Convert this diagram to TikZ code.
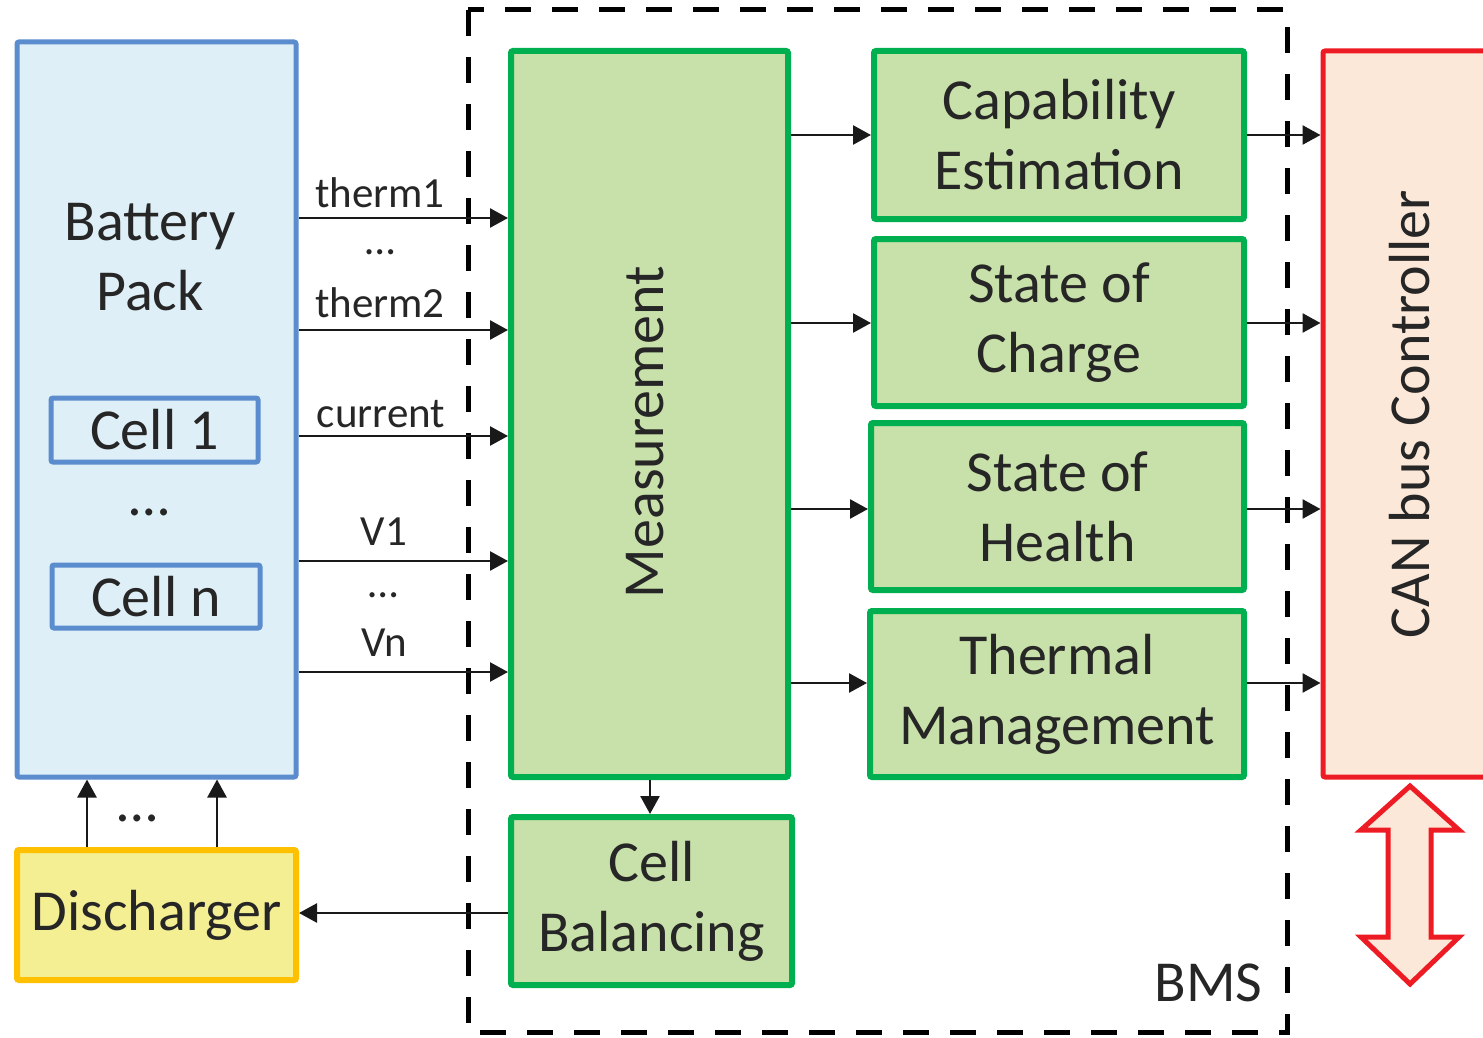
\documentclass[tikz,border=0pt]{standalone}
\usepackage{fontspec}
\setmainfont{Carlito}
\usetikzlibrary{arrows.meta}

\definecolor{txt}{HTML}{262626}
\definecolor{packline}{HTML}{5B8DCE}
\definecolor{packfill}{HTML}{DEEFF7}
\definecolor{bmsline}{HTML}{00B050}
\definecolor{bmsfill}{HTML}{C8E0A9}
\definecolor{disline}{HTML}{FFC000}
\definecolor{disfill}{HTML}{F5EF94}
\definecolor{canline}{HTML}{ED1C24}
\definecolor{canfill}{HTML}{FCE8D8}

\tikzset{
  big/.style={font=\fontsize{58}{70}\selectfont, text=txt, align=center},
  small/.style={font=\fontsize{43}{50}\selectfont, text=txt, inner sep=0pt},
  packbox/.style={draw=packline, fill=packfill, line width=5pt, rounded corners=2pt},
  greenbox/.style={draw=bmsline, fill=bmsfill, line width=6pt, rounded corners=2pt, big},
  flow/.style={line width=2.6pt, draw=black!90, -{Triangle[length=18pt, width=19pt]}},
}

\begin{document}
\begin{tikzpicture}[x=1pt, y=-1pt]
  \clip (0,0) rectangle (1483,1038);
  \fill[white] (0,0) rectangle (1483,1038);

  % battery side
  \node[packbox, minimum width=279pt, minimum height=735pt] (pack) at (156.5,409.5) {};
  \node[big] (packtext) at (150,257) {Battery\\Pack};
  \node[packbox, big, minimum width=207pt, minimum height=64pt, inner sep=0pt] (cell1) at (154.5,430) {Cell 1};
  \node[big] (celldots) at (150,512) {…};
  \node[packbox, big, minimum width=208pt, minimum height=63pt, inner sep=0pt] (celln) at (156,596.5) {Cell n};

  \node[draw=disline, fill=disfill, line width=6pt, rounded corners=2pt, big,
        minimum width=279pt, minimum height=130pt, inner sep=0pt] (dis) at (156.5,915) {Discharger};

  % BMS boundary
  \draw[line width=5pt, dash pattern=on 26pt off 21pt, line cap=butt] (468,10) rectangle (1287,1032);
  \node[big, anchor=east] (bmslabel) at (1266,983) {BMS};

  % BMS blocks
  \node[greenbox, minimum width=277pt, minimum height=726pt] (meas) at (649.5,414) {};
  \node[big, rotate=90] (meastext) at (645,432) {Measurement};
  \node[greenbox, minimum width=281pt, minimum height=168pt] (bal) at (651.5,901) {Cell\\Balancing};

  \node[greenbox, minimum width=370pt, minimum height=168pt] (cap) at (1059,135) {Capability\\Estimation};
  \node[greenbox, minimum width=370pt, minimum height=167pt] (soc) at (1059,322.5) {State of\\Charge};
  \node[greenbox, minimum width=373pt, minimum height=167pt] (soh) at (1057.5,506.5) {State of\\Health};
  \node[greenbox, minimum width=374pt, minimum height=166pt] (therm) at (1057,694) {Thermal\\Management};

  % CAN controller
  \node[draw=canline, fill=canfill, line width=5pt, rounded corners=2pt,
        minimum width=174pt, minimum height=726pt] (can) at (1410,414) {};
  \node[big, rotate=90] (cantext) at (1410,414) {CAN bus Controller};

  % bus connection
  \draw[draw=canline, fill=canfill, line width=5pt, line join=miter]
    (1410,786) -- (1459,830) -- (1431,830) -- (1431,937) -- (1459,937) -- (1410,984)
    -- (1361,937) -- (1388,937) -- (1388,830) -- (1361,830) -- cycle;

  % sensor signals into the measurement block
  \draw[flow] (pack.east |- 0,218) -- (meas.west |- 0,218);
  \draw[flow] (pack.east |- 0,330) -- (meas.west |- 0,330);
  \draw[flow] (pack.east |- 0,436) -- (meas.west |- 0,436);
  \draw[flow] (pack.east |- 0,561) -- (meas.west |- 0,561);
  \draw[flow] (pack.east |- 0,672) -- (meas.west |- 0,672);
  \node[small] (l1) at (380,193) {therm1};
  \node[small] (d1) at (380,252) {…};
  \node[small] (l2) at (380,303) {therm2};
  \node[small] (l3) at (381,414) {current};
  \node[small] (l4) at (384,532) {V1};
  \node[small] (d2) at (383,595) {…};
  \node[small] (l5) at (384,643) {Vn};

  % measurement to estimators
  \draw[flow] (meas.east |- 0,135) -- (cap.west |- 0,135);
  \draw[flow] (meas.east |- 0,323) -- (soc.west |- 0,323);
  \draw[flow] (meas.east |- 0,509) -- (soh.west |- 0,509);
  \draw[flow] (meas.east |- 0,683) -- (therm.west |- 0,683);

  % estimators to CAN bus
  \draw[flow] (cap.east |- 0,135) -- (can.west |- 0,135);
  \draw[flow] (soc.east |- 0,323) -- (can.west |- 0,323);
  \draw[flow] (soh.east |- 0,509) -- (can.west |- 0,509);
  \draw[flow] (therm.east |- 0,683) -- (can.west |- 0,683);

  % balancing path
  \draw[flow] (meas.south -| 650,0) -- (bal.north -| 650,0);
  \draw[flow] (bal.west |- 0,913) -- (dis.east |- 0,913);
  \draw[flow] (dis.north -| 87,0) -- (pack.south -| 87,0);
  \draw[flow] (dis.north -| 217,0) -- (pack.south -| 217,0);
  \node[big] (disdots) at (138,818) {…};
\end{tikzpicture}
\end{document}
